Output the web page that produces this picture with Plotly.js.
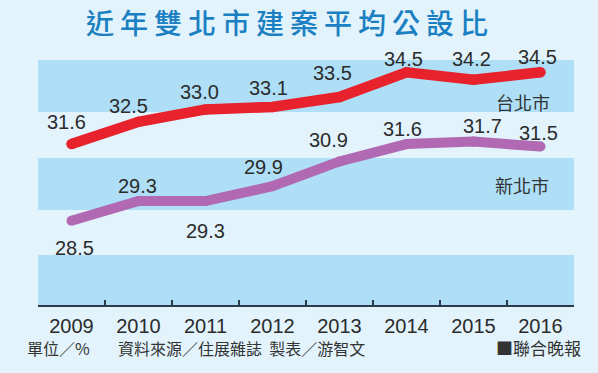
<!DOCTYPE html>
<html>
<head>
<meta charset="utf-8">
<script src="https://cdn.plot.ly/plotly-3.0.1.min.js"></script>
<style>
html,body{margin:0;padding:0;background:#e2f3fc;}
#chart{width:598px;height:373px;}
#chart .gtitle{letter-spacing:6px;}
</style>
</head>
<body>
<div id="chart"></div>
<script>
var years = ['2009','2010','2011','2012','2013','2014','2015','2016'];
var taipei = [31.6, 32.5, 33.0, 33.1, 33.5, 34.5, 34.2, 34.5];
var newTaipei = [28.5, 29.3, 29.3, 29.9, 30.9, 31.6, 31.7, 31.5];
var seriesNames = ['台北市', '新北市'];
var titleText = '近年雙北市建案平均公設比';
var unitText = '單位／%';
var sourceText = '資料來源／住展雜誌  製表／游智文';
var brandText = '■聯合晚報';

// label offsets in pixels (style only)
var redShiftX = [-5, -10, -6, -4, -7, -3, -2, -3];
var redShiftY = [22, 16, 17, 19, 24, 13, 21, 15];
var purShiftX = [3, -1, 0, -9, -11, -4, 9, -2];
var purShiftY = [-27, 15, -30, 19, 21, 15, 16, 14];

var RED = '#e8222c', PURPLE = '#b069b2', BG = '#e2f3fc', BAND = '#aedff6';
var numFont = {family: 'Liberation Sans, Arial, sans-serif', size: 20, color: '#2b2b2b'};
var cjk = 'Noto Sans CJK TC, Noto Sans CJK SC, sans-serif';

var traces = [
  {x: years, y: taipei, mode: 'lines+markers', name: seriesNames[0],
   line: {color: RED, width: 10.5}, marker: {color: RED, size: 10.5}, hoverinfo: 'skip'},
  {x: years, y: newTaipei, mode: 'lines+markers', name: seriesNames[1],
   line: {color: PURPLE, width: 10}, marker: {color: PURPLE, size: 10}, hoverinfo: 'skip'}
];

var annotations = [];
taipei.forEach(function(v, i){
  annotations.push({x: i, y: v, text: v.toFixed(1), showarrow: false,
    xanchor: 'center', yanchor: 'middle',
    yshift: redShiftY[i], xshift: redShiftX[i], font: numFont});
});
newTaipei.forEach(function(v, i){
  annotations.push({x: i, y: v, text: v.toFixed(1), showarrow: false,
    xanchor: 'center', yanchor: 'middle',
    yshift: purShiftY[i], xshift: purShiftX[i], font: numFont});
});
annotations.push({xref: 'paper', yref: 'paper', x: 0.905, y: 0.795, xanchor: 'center', yanchor: 'middle',
  text: seriesNames[0], showarrow: false, font: {family: cjk, size: 18, color: '#333'}});
annotations.push({xref: 'paper', yref: 'paper', x: 0.903, y: 0.47, xanchor: 'center', yanchor: 'middle',
  text: seriesNames[1], showarrow: false, font: {family: cjk, size: 18, color: '#333'}});
annotations.push({xref: 'paper', yref: 'paper', x: -0.024, y: -0.168, xanchor: 'left', yanchor: 'middle',
  text: unitText, showarrow: false, font: {family: cjk, size: 16, color: '#333'}});
annotations.push({xref: 'paper', yref: 'paper', x: 0.145, y: -0.168, xanchor: 'left', yanchor: 'middle',
  text: sourceText, showarrow: false, font: {family: cjk, size: 16, color: '#333'}});
annotations.push({xref: 'paper', yref: 'paper', x: 1.017, y: -0.168, xanchor: 'right', yanchor: 'middle',
  text: brandText, showarrow: false, font: {family: cjk, size: 17, color: '#333'}});

var bands = [[0.757, 0.961], [0.373, 0.576], [0.0, 0.196]];
var shapes = bands.map(function(b){
  return {type: 'rect', xref: 'paper', yref: 'paper', x0: 0, x1: 1, y0: b[0], y1: b[1],
    fillcolor: BAND, line: {width: 0}, layer: 'below'};
});

var layout = {
  width: 598, height: 373,
  margin: {l: 38, r: 24, t: 50, b: 68},
  paper_bgcolor: BG, plot_bgcolor: BG,
  showlegend: false,
  title: {text: titleText, x: 0.485, xanchor: 'center', y: 0.936, yanchor: 'middle',
    font: {family: cjk, size: 28, color: '#1b80c2', weight: 500}},
  xaxis: {type: 'category', tickson: 'boundaries', ticks: 'inside', ticklen: 5,
    tickcolor: '#2b3b4b', tickwidth: 1.2, showline: true, linecolor: '#2b3b4b', linewidth: 1.5,
    showgrid: false, zeroline: false, range: [-0.5, 7.5], ticklabelstandoff: 2,
    tickfont: {family: 'Liberation Sans, Arial, sans-serif', size: 20, color: '#2b2b2b'}},
  yaxis: {range: [25.1, 35.4], visible: false, showgrid: false, zeroline: false},
  shapes: shapes,
  annotations: annotations
};
Plotly.newPlot('chart', traces, layout, {displayModeBar: false, staticPlot: true});
</script>
</body>
</html>
